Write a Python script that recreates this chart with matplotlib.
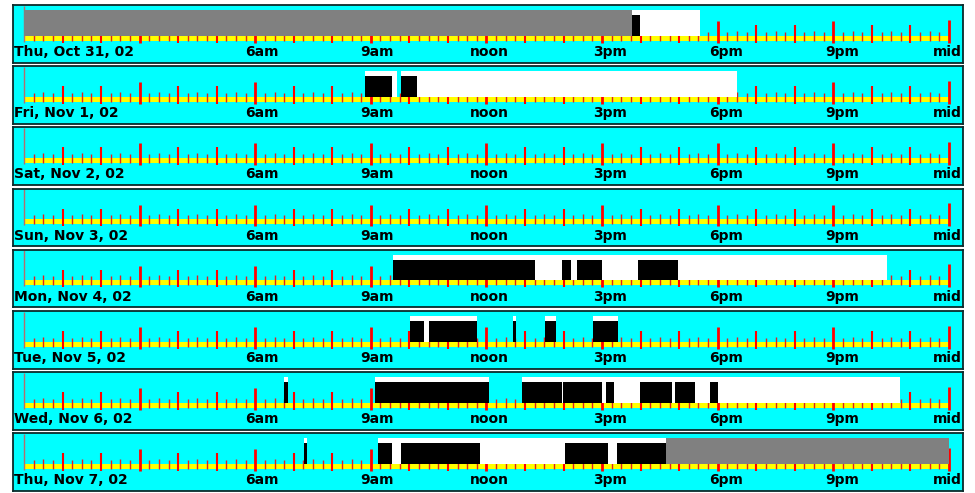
import matplotlib
matplotlib.use('Agg')
import matplotlib.pyplot as plt
import matplotlib.transforms as mtrans
import numpy as np

# ---------------- data (hours of day) ----------------
DAY_LABELS = ['Thu, Oct 31, 02', 'Fri, Nov 1, 02', 'Sat, Nov 2, 02', 'Sun, Nov 3, 02',
              'Mon, Nov 4, 02', 'Tue, Nov 5, 02', 'Wed, Nov 6, 02', 'Thu, Nov 7, 02']

GRAY_SPANS = [
    [(0.0, 15.77)],
    [], [], [], [], [], [],
    [(16.67, 24.0)],
]

WHITE_SPANS = [
    [(15.77, 17.54)],
    [(8.85, 9.67), (9.78, 18.51)],
    [],
    [],
    [(9.58, 22.39)],
    [(10.02, 11.75), (12.70, 12.76), (13.52, 13.80), (14.77, 15.42)],
    [(6.75, 6.84), (9.11, 12.07), (12.91, 22.73)],
    [(7.27, 7.34), (9.18, 16.67)],
]

BLACK_SPANS = [
    [(15.77, 15.98)],
    [(8.85, 9.55), (9.78, 10.19)],
    [],
    [],
    [(9.58, 13.25), (13.97, 14.19), (14.34, 14.99), (15.92, 16.96)],
    [(10.02, 10.38), (10.51, 11.75), (12.70, 12.76), (13.52, 13.80), (14.77, 15.42)],
    [(6.75, 6.84), (9.11, 12.07), (12.91, 13.95), (13.98, 14.99), (15.09, 15.31),
     (15.98, 16.82), (16.88, 17.41), (17.80, 18.02)],
    [(7.27, 7.34), (9.18, 9.56), (9.77, 11.83), (14.04, 15.16), (15.39, 16.67)],
]

HOUR_LABELS = ['6am', '9am', 'noon', '3pm', '6pm', '9pm', 'mid']
HOUR_LABEL_HOURS = [6, 9, 12, 15, 18, 21, 24]

# ---------------- layout / style ----------------
W, H = 975, 493
PX_PER_HOUR = 38.54
X0_PX = 24          # pixel of midnight
PANEL_LEFT, PANEL_RIGHT = 13, 963
TOP0, STEP, PH = 5.0, 61.2, 57.5
LABEL_OFF_PX = [7, 6.5, 3, 7.5, 8, 8.5, 13]
LABEL_HA = ['center'] * 6 + ['right']

CYAN = '#00ffff'
YELLOW = '#ffff00'
RED = '#ff0000'
GRAY = '#808080'
BORDER = '#0b2b2b'

FONT = dict(family='DejaVu Sans', weight='bold', size=10.0)

fig = plt.figure(figsize=(W / 100, H / 100), dpi=100)
fig.patch.set_facecolor('white')

xmin = (PANEL_LEFT - X0_PX) / PX_PER_HOUR
xmax = (PANEL_RIGHT - X0_PX) / PX_PER_HOUR

quarter = np.arange(0, 24.001, 0.25)

for i, label in enumerate(DAY_LABELS):
    top = TOP0 + i * STEP
    ax = fig.add_axes([PANEL_LEFT / W, 1 - (top + PH) / H,
                       (PANEL_RIGHT - PANEL_LEFT) / W, PH / H])
    ax.set_facecolor(CYAN)
    ax.set_xlim(xmin, xmax)
    ax.set_ylim(PH, 0)
    ax.set_xticks([])
    ax.set_yticks([])
    for sp in ax.spines.values():
        sp.set_color(BORDER)
        sp.set_linewidth(1.3)

    # yellow band
    ax.broken_barh([(0, 24)], (30.5, 5.0), facecolor=YELLOW, edgecolor='none', zorder=1)

    # ticks
    for h in quarter:
        hr = round(h * 4)
        if hr == 0:
            ax.vlines(h, 0.5, 36.5, color='#b46e6e', lw=1.0, zorder=2)
        elif hr == 96:
            ax.vlines(h, 14.5, 37.5, color=RED, lw=2.0, zorder=2)
        elif hr % 12 == 0:
            ax.vlines(h, 16.0, 37.5, color=RED, lw=2.0, zorder=2)
        elif hr % 4 == 0:
            ax.vlines(h, 20.0, 37.5, color=RED, lw=1.5, zorder=2)
        elif hr % 2 == 0:
            ax.vlines(h, 25.5, 35.5, color='#e02020', lw=1.0, zorder=2)
        else:
            ax.vlines(h, 26.5, 35.5, color='#e02020', lw=1.0, zorder=2)

    # bars
    ax.broken_barh([(s, e - s) for s, e in GRAY_SPANS[i]], (4.8, 25.7),
                   facecolor=GRAY, edgecolor='none', zorder=3)
    ax.broken_barh([(s, e - s) for s, e in WHITE_SPANS[i]], (4.8, 25.7),
                   facecolor='white', edgecolor='none', zorder=3)
    ax.broken_barh([(s, e - s) for s, e in BLACK_SPANS[i]], (9.8, 20.7),
                   facecolor='black', edgecolor='none', zorder=4)

    # labels
    tr = mtrans.blended_transform_factory(ax.transAxes, ax.transData)
    ax.text(1.0 / (PANEL_RIGHT - PANEL_LEFT), 51.0, label, transform=tr,
            ha='left', va='baseline', color='black', **FONT)
    for lab, hh, off, ha in zip(HOUR_LABELS, HOUR_LABEL_HOURS, LABEL_OFF_PX, LABEL_HA):
        ax.text(hh + off / PX_PER_HOUR, 51.0, lab, ha=ha, va='baseline',
                color='black', clip_on=False, **FONT)

fig.savefig('out.png', dpi=100, facecolor='white')
